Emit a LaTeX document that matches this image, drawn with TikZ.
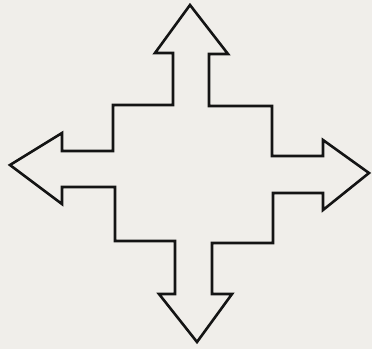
\documentclass[tikz,border=0pt]{standalone}
\definecolor{paper}{HTML}{F0EEEA}
\definecolor{ink}{HTML}{141414}
\tikzset{outline/.style={draw=ink, line width=2.6pt, line join=miter, fill=paper}}
\begin{document}
\begin{tikzpicture}[x=1pt,y=-1pt]
\fill[paper] (0,0) rectangle (372,349);
\useasboundingbox (0,0) rectangle (372,349);
\draw[outline]
  (190,5) -- (228,54) -- (209,54) -- (209,106) -- (272,106) -- (272,156)
  -- (323,156) -- (323,140) -- (369,173) -- (323,210) -- (323,193)
  -- (273,193) -- (273,243) -- (212,243) -- (212,294) -- (232,294)
  -- (197,342) -- (159,294) -- (175,294) -- (175,241) -- (115,241)
  -- (115,187) -- (62,187) -- (62,204) -- (10,165) -- (62,133)
  -- (62,151) -- (113,151) -- (113,105) -- (173,105) -- (173,53)
  -- (155,53) -- cycle;
\end{tikzpicture}
\end{document}
